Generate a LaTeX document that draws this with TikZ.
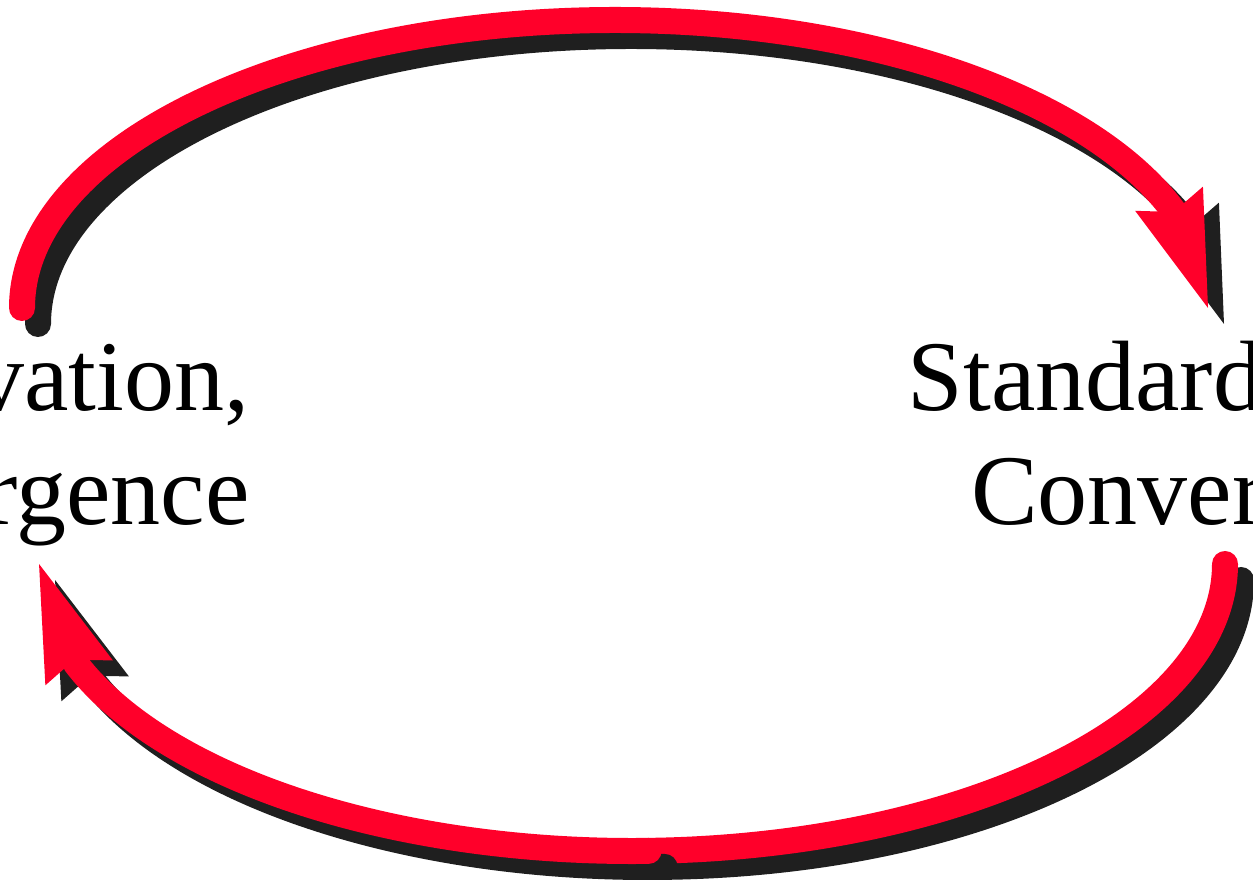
\documentclass[tikz,border=0pt]{standalone}
\usepackage{fontspec}
\setmainfont{Liberation Serif}
\usetikzlibrary{arrows.meta,bending}
\definecolor{arrowred}{RGB}{255,0,42}
\definecolor{shadowgray}{RGB}{31,31,31}
\begin{document}
\begin{tikzpicture}[x=1pt,y=1pt,
  band/.style={line width=26pt, line cap=round},
  headtip/.style={-{Stealth[length=116pt,width=72pt,inset=14pt,line width=0pt,flex]}},
  shadowed/.style={shift={(16,-16)}},
  label/.style={font=\fontsize{100}{114}\selectfont, align=center, anchor=base, inner sep=0pt}]
\useasboundingbox (0,0) rectangle (1253,880);
\clip (0,0) rectangle (1253,880);
\node[label] (left) at (20,355) {Innovation,\\Divergence};
\node[label] (right) at (1234,355) {Standardization,\\Convergence};
\coordinate (topstart) at (22,572);
\coordinate (botstart) at (1225,316);
\coordinate (botmid) at (648.6,29.1);
% top arrow
\draw[band, shadowgray, headtip] ([shadowed]topstart) arc[start angle=180, end angle=0, x radius=593, y radius=288];
\draw[band, arrowred, headtip] (topstart) arc[start angle=180, end angle=0, x radius=593, y radius=288];
% bottom arrow, first part
\draw[band, shadowgray] ([shadowed]botstart) arc[start angle=0, end angle=-88.4, x radius=593, y radius=287];
\draw[band, arrowred] (botstart) arc[start angle=0, end angle=-88.4, x radius=593, y radius=287];
% bottom arrow, second part
\draw[band, shadowgray, headtip] ([shadowed]botmid) arc[start angle=-88.4, end angle=-180, x radius=593, y radius=287];
\draw[band, arrowred, headtip] (botmid) arc[start angle=-88.4, end angle=-180, x radius=593, y radius=287];
\end{tikzpicture}
\end{document}
